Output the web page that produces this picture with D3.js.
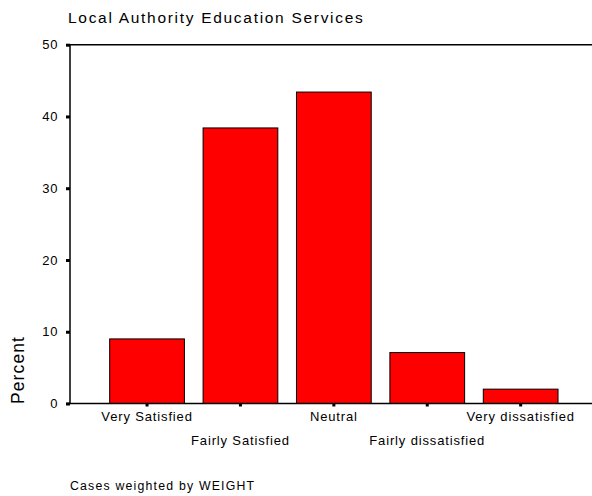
<!DOCTYPE html>
<html><head><meta charset="utf-8">
<script src="https://cdn.jsdelivr.net/npm/d3@7"></script>
<style>body{margin:0;background:#fff}svg{display:block}text{font-family:"Liberation Sans",Arial,sans-serif;fill:#000}</style>
</head><body>
<script>
const categories = ["Very Satisfied","Fairly Satisfied","Neutral","Fairly dissatisfied","Very dissatisfied"];
const percents = [9.0, 38.4, 43.4, 7.1, 2.0];
const yTicks = [0,10,20,30,40,50];
const titleText = "Local Authority Education Services";
const yLabel = "Percent";
const footnote = "Cases weighted by WEIGHT";

(function(){
const W = 592, H = 496;
const svg = d3.select("body").append("svg").attr("width", W).attr("height", H);
const pLeft = 70, pRight = 592, pTop = 44.7, pBottom = 403.5;

const y = d3.scaleLinear().domain([0,50]).range([pBottom, pTop]);
const x = d3.scaleBand().domain(categories).range([91, 576.7]).paddingInner(0.2).paddingOuter(0.2);

svg.append("line").attr("x1", pLeft).attr("x2", pRight).attr("y1", pTop).attr("y2", pTop).attr("stroke","#000").attr("stroke-width",1.5);

svg.selectAll("rect.bar").data(categories).enter().append("rect").attr("class","bar")
  .attr("x", d => x(d)).attr("width", x.bandwidth())
  .attr("y", (d,i) => y(percents[i])).attr("height", (d,i) => pBottom - y(percents[i]))
  .attr("fill", "#ff0000").attr("stroke", "#000").attr("stroke-width", 1);

const yAxis = d3.axisLeft(y).tickValues(yTicks).tickSize(4).tickPadding(8).tickFormat(d3.format("d"));
const gy = svg.append("g").attr("transform", `translate(${pLeft},0)`).call(yAxis);
gy.select(".domain").remove();
gy.append("line").attr("x1",0).attr("x2",0).attr("y1",pTop).attr("y2",pBottom+0.5).attr("stroke","#000").attr("stroke-width",1.5);
gy.selectAll(".tick line").attr("stroke","#000").attr("stroke-width",3);
gy.selectAll(".tick text").attr("font-size", 13).attr("font-family", "Liberation Sans, Arial, sans-serif").attr("fill","#000").attr("x", -12)
  .attr("letter-spacing", 0.6);

const xAxis = d3.axisBottom(x).tickSize(3).tickSizeOuter(0);
const gx = svg.append("g").attr("transform", `translate(0,${pBottom})`).call(xAxis);
gx.select(".domain").remove();
gx.append("line").attr("x1", 66).attr("x2", pRight).attr("y1",0).attr("y2",0).attr("stroke","#000").attr("stroke-width",1.5);
gx.selectAll(".tick line").attr("stroke","#000").attr("stroke-width",3);
gx.selectAll(".tick text").attr("font-size", 13).attr("font-family", "Liberation Sans, Arial, sans-serif").attr("fill","#000")
  .attr("letter-spacing", 0.85)
  .attr("dy", null).attr("y", (d,i) => i % 2 === 0 ? 17.5 : 41.5);

svg.append("text").attr("x", 68).attr("y", 23).attr("font-size", 15.5).attr("letter-spacing", 1.7).text(titleText);
svg.append("text").attr("transform", `translate(24,370) rotate(-90)`).attr("text-anchor","middle").attr("font-size", 17.5).attr("letter-spacing", 1.1).text(yLabel);
svg.append("text").attr("x", 70).attr("y", 490).attr("font-size", 12.3).attr("letter-spacing", 1.2).text(footnote);
})();
</script>
</body></html>
